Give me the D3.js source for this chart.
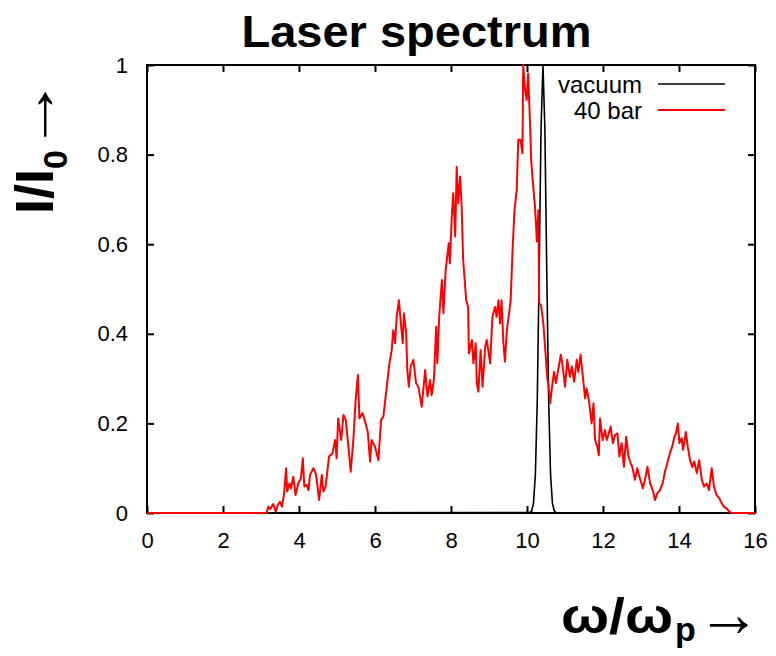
<!DOCTYPE html>
<html>
<head>
<meta charset="utf-8">
<script src="https://cdn.jsdelivr.net/npm/d3@7"></script>
<style>
  body { margin: 0; background: #fff; }
  svg { display: block; }
</style>
</head>
<body>
<svg id="chart" width="776" height="656"></svg>
<script>
// Axis ticks
const xTicks = [0, 2, 4, 6, 8, 10, 12, 14, 16];
const yTicks = [0, 0.2, 0.4, 0.6, 0.8, 1];
const yTickLabels = ["0", "0.2", "0.4", "0.6", "0.8", "1"];

// Series names
const seriesNames = ["vacuum", "40 bar"];

// Spectrum in vacuum: [omega/omega_p, I/I0]
const vacuumSpectrum = [
  [0, 0], [10.07, 0.001], [10.12, 0.004], [10.17, 0.021], [10.22, 0.085],
  [10.27, 0.25], [10.32, 0.54], [10.37, 0.86], [10.42, 1.0], [10.47, 0.86],
  [10.52, 0.54], [10.57, 0.25], [10.62, 0.085], [10.67, 0.021], [10.72, 0.004],
  [10.77, 0.001], [16, 0]
];

// Spectrum after 40 bar gas: [omega/omega_p, I/I0]
const gasSpectrum = [
  [0, 0], [3.15, 0], [3.19, 0.014], [3.24, 0.009], [3.32, 0.020], [3.39, 0.003],
  [3.44, 0.018], [3.50, 0.025], [3.55, 0.014], [3.61, 0.044], [3.66, 0.100],
  [3.69, 0.048], [3.75, 0.066], [3.79, 0.055], [3.85, 0.081], [3.91, 0.040],
  [3.98, 0.066], [4.05, 0.077], [4.10, 0.122], [4.14, 0.059], [4.20, 0.063],
  [4.25, 0.051], [4.29, 0.085], [4.38, 0.100], [4.45, 0.085], [4.53, 0.029],
  [4.60, 0.085], [4.64, 0.048], [4.70, 0.059], [4.79, 0.126], [4.88, 0.133],
  [4.95, 0.163], [4.99, 0.122], [5.03, 0.211], [5.11, 0.163], [5.17, 0.219],
  [5.23, 0.208], [5.30, 0.148], [5.36, 0.092], [5.43, 0.163], [5.49, 0.252],
  [5.55, 0.308], [5.59, 0.211], [5.67, 0.223], [5.74, 0.204], [5.81, 0.181],
  [5.87, 0.115], [5.91, 0.163], [6.00, 0.148], [6.09, 0.118], [6.16, 0.208],
  [6.22, 0.215], [6.31, 0.282], [6.38, 0.334], [6.44, 0.364], [6.48, 0.408],
  [6.53, 0.379], [6.57, 0.438], [6.63, 0.475], [6.68, 0.424], [6.73, 0.379],
  [6.76, 0.446], [6.82, 0.402], [6.85, 0.319], [6.89, 0.282], [6.94, 0.327],
  [7.01, 0.342], [7.08, 0.290], [7.14, 0.282], [7.23, 0.237], [7.32, 0.319],
  [7.38, 0.260], [7.45, 0.297], [7.49, 0.263], [7.55, 0.297], [7.61, 0.416],
  [7.64, 0.334], [7.69, 0.438], [7.76, 0.520], [7.80, 0.446], [7.86, 0.542],
  [7.90, 0.572], [7.94, 0.602], [7.97, 0.557], [8.02, 0.661], [8.06, 0.714],
  [8.11, 0.617], [8.15, 0.773], [8.19, 0.691], [8.24, 0.751], [8.28, 0.684],
  [8.32, 0.565], [8.40, 0.475], [8.45, 0.460], [8.47, 0.356], [8.55, 0.386],
  [8.59, 0.334], [8.65, 0.379], [8.68, 0.290], [8.72, 0.271], [8.78, 0.364],
  [8.83, 0.282], [8.90, 0.371], [8.94, 0.386], [8.98, 0.364], [9.03, 0.334],
  [9.09, 0.438], [9.16, 0.460], [9.20, 0.438], [9.25, 0.475], [9.29, 0.423],
  [9.33, 0.475], [9.38, 0.379], [9.42, 0.338], [9.47, 0.408], [9.53, 0.446],
  [9.57, 0.475], [9.62, 0.587], [9.67, 0.676], [9.73, 0.721], [9.77, 0.833],
  [9.83, 0.833], [9.88, 0.803], [9.90, 1.000], [9.95, 0.944], [9.99, 0.922],
  [10.03, 0.981], [10.08, 0.870], [10.11, 0.788], [10.15, 0.743], [10.21, 0.684],
  [10.26, 0.606], [10.30, 0.676], [10.32, 0.468], [10.37, 0.464], [10.43, 0.423],
  [10.50, 0.342], [10.53, 0.304], [10.59, 0.267], [10.61, 0.245], [10.65, 0.275],
  [10.71, 0.315], [10.76, 0.290], [10.82, 0.319], [10.89, 0.353], [10.94, 0.327],
  [11.00, 0.282], [11.06, 0.342], [11.13, 0.304], [11.18, 0.327], [11.24, 0.293],
  [11.31, 0.342], [11.35, 0.315], [11.41, 0.353], [11.47, 0.304], [11.53, 0.256],
  [11.57, 0.278], [11.64, 0.245], [11.70, 0.200], [11.75, 0.245], [11.79, 0.163],
  [11.85, 0.148], [11.89, 0.129], [11.92, 0.211], [11.99, 0.163], [12.05, 0.185],
  [12.10, 0.163], [12.14, 0.174], [12.20, 0.193], [12.26, 0.156], [12.32, 0.174],
  [12.38, 0.178], [12.43, 0.126], [12.49, 0.156], [12.55, 0.103], [12.61, 0.170],
  [12.67, 0.126], [12.73, 0.111], [12.78, 0.100], [12.84, 0.074], [12.90, 0.100],
  [12.96, 0.081], [13.05, 0.055], [13.11, 0.077], [13.17, 0.103], [13.24, 0.066],
  [13.31, 0.051], [13.37, 0.029], [13.43, 0.044], [13.50, 0.051], [13.57, 0.066],
  [13.63, 0.092], [13.69, 0.111], [13.76, 0.133], [13.82, 0.148], [13.88, 0.170],
  [13.92, 0.178], [13.97, 0.200], [14.01, 0.156], [14.07, 0.167], [14.11, 0.141],
  [14.18, 0.181], [14.23, 0.148], [14.29, 0.118], [14.35, 0.103], [14.40, 0.115],
  [14.47, 0.089], [14.53, 0.118], [14.60, 0.074], [14.66, 0.059], [14.73, 0.066],
  [14.79, 0.051], [14.86, 0.100], [14.92, 0.059], [14.99, 0.040], [15.06, 0.033],
  [15.12, 0.022], [15.18, 0.014], [15.26, 0.010], [15.32, 0.003], [15.39, 0],
  [16, 0]
];

const FONT = "'Liberation Sans', Arial, Helvetica, sans-serif";
const svg = d3.select("#chart");

const plot = { left: 147, right: 755, top: 65, bottom: 513 };
const x = d3.scaleLinear().domain([0, 16]).range([plot.left, plot.right]);
const y = d3.scaleLinear().domain([0, 1]).range([plot.bottom, plot.top]);

// Title
svg.append("text")
  .attr("x", 416.5).attr("y", 47)
  .attr("text-anchor", "middle")
  .attr("font-family", FONT).attr("font-weight", "bold").attr("font-size", 44)
  .attr("textLength", 350).attr("lengthAdjust", "spacingAndGlyphs")
  .text("Laser spectrum");

// Axes: labelled bottom/left, mirrored ticks on top/right, all ticks inward
function styleAxis(g) {
  g.select(".domain").remove();
  g.selectAll(".tick line").attr("stroke", "#000").attr("stroke-width", 2);
  g.selectAll(".tick text").attr("font-family", FONT).attr("font-size", 22).attr("fill", "#000");
}

svg.append("g")
  .attr("transform", `translate(0,${plot.bottom})`)
  .call(d3.axisBottom(x).tickValues(xTicks).tickSize(-7).tickSizeOuter(0).tickPadding(19)
    .tickFormat(d3.format("d")))
  .call(styleAxis);

svg.append("g")
  .attr("transform", `translate(0,${plot.top})`)
  .call(d3.axisTop(x).tickValues(xTicks).tickSize(-7).tickSizeOuter(0).tickFormat(""))
  .call(styleAxis);

svg.append("g")
  .attr("transform", `translate(${plot.left},0)`)
  .call(d3.axisLeft(y).tickValues(yTicks).tickSize(-7).tickSizeOuter(0).tickPadding(19)
    .tickFormat((d, i) => yTickLabels[i]))
  .call(styleAxis);

svg.append("g")
  .attr("transform", `translate(${plot.right},0)`)
  .call(d3.axisRight(y).tickValues(yTicks).tickSize(-7).tickSizeOuter(0).tickFormat(""))
  .call(styleAxis);

// Plot frame
svg.append("rect")
  .attr("x", plot.left).attr("y", plot.top)
  .attr("width", plot.right - plot.left).attr("height", plot.bottom - plot.top)
  .attr("fill", "none").attr("stroke", "#000").attr("stroke-width", 2);

// Spectra
const line = d3.line().x(d => x(d[0])).y(d => y(d[1]));

svg.append("path")
  .datum(vacuumSpectrum)
  .attr("d", line)
  .attr("fill", "none").attr("stroke", "#000").attr("stroke-width", 1.6)
  .attr("stroke-linejoin", "round");

svg.append("path")
  .datum(gasSpectrum)
  .attr("d", line)
  .attr("fill", "none").attr("stroke", "#ff0000").attr("stroke-width", 2)
  .attr("stroke-linejoin", "round");

// Legend
const legendColors = ["#000", "#ff0000"];
const legendWidths = [1.6, 2];
const legendRows = [84, 110];
seriesNames.forEach((name, i) => {
  svg.append("text")
    .attr("x", 642).attr("y", legendRows[i] + 8.5)
    .attr("text-anchor", "end")
    .attr("font-family", FONT).attr("font-size", 24)
    .text(name);
  svg.append("line")
    .attr("x1", 658).attr("x2", 725)
    .attr("y1", legendRows[i]).attr("y2", legendRows[i])
    .attr("stroke", legendColors[i]).attr("stroke-width", legendWidths[i]);
});

// Y axis label: I/I0 with arrow, rotated
const yl = svg.append("g").attr("transform", "translate(53,214) rotate(-90)");
const ylt = yl.append("text")
  .attr("x", 0).attr("y", 0)
  .attr("font-family", FONT).attr("font-weight", "bold").attr("font-size", 54);
ylt.append("tspan").text("I/I");
ylt.append("tspan").attr("font-size", 34).attr("dy", 14).text("0");
yl.append("text")
  .attr("x", 62).attr("y", -19)
  .attr("dominant-baseline", "central")
  .attr("font-family", FONT).attr("font-size", 58)
  .attr("textLength", 75).attr("lengthAdjust", "spacingAndGlyphs")
  .text("\u2192");

// X axis label: omega/omega_p with arrow
svg.append("text")
  .attr("x", 561).attr("y", 633)
  .attr("font-family", FONT).attr("font-weight", "bold").attr("font-size", 50)
  .attr("textLength", 112).attr("lengthAdjust", "spacingAndGlyphs")
  .text("\u03c9/\u03c9");
svg.append("text")
  .attr("x", 675).attr("y", 641)
  .attr("font-family", FONT).attr("font-weight", "bold").attr("font-size", 34)
  .text("p");
svg.append("text")
  .attr("x", 697).attr("y", 636)
  .attr("font-family", FONT).attr("font-size", 66)
  .attr("textLength", 64).attr("lengthAdjust", "spacingAndGlyphs")
  .text("\u2192");
</script>
</body>
</html>
